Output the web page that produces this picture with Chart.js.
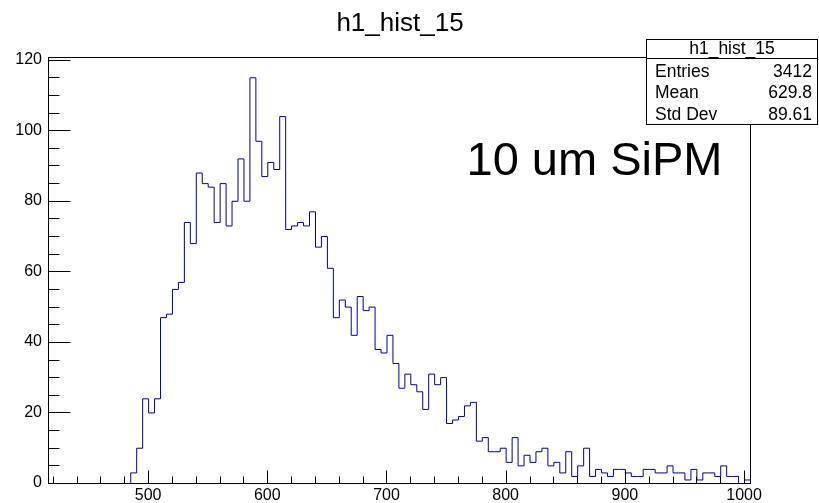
<!DOCTYPE html>
<html>
<head>
<meta charset="utf-8">
<script src="https://cdn.jsdelivr.net/npm/chart.js@4.4.0/dist/chart.umd.min.js"></script>
<style>
html, body { margin: 0; padding: 0; background: #fff; }
#c { display: block; }
</style>
</head>
<body>
<canvas id="c" width="819" height="503"></canvas>
<script>
var histTitle = 'h1_hist_15';
var sensorLabel = '10 um SiPM';

// bins of 5, lower edge of first bin at 415
var binLow = 415;
var binWidth = 5;
var counts = [
    0, 0, 0, 0, 0, 0, 0, 0, 0, 0, 0, 0, 0, 0,
    3, 10, 24, 20, 24, 47, 48, 55, 57, 74, 68,
    88, 85, 84, 74, 85, 73, 80, 92, 80,
    115, 97, 87, 91, 89, 104, 72, 73, 74, 73, 77,
    67, 70, 61, 47, 52, 50, 42, 53, 49, 50, 38,
    37, 42, 34, 27, 31, 28, 26, 21, 31, 28, 30,
    17, 18, 19, 22, 23, 12, 13, 9, 9, 10, 6,
    13, 5, 8, 6, 9, 10, 5, 6, 3, 9, 2,
    5, 10, 2, 4, 3, 2, 4, 4, 3, 2, 2,
    4, 4, 3, 3, 5, 3, 3, 1, 4, 1, 3,
    3, 2, 5, 2, 2, 0, 1
];

var xTicks = [500, 600, 700, 800, 900, 1000];
var yTicks = [0, 20, 40, 60, 80, 100, 120];
var statNames = ['Entries', 'Mean', 'Std Dev'];
var statValues = ['3412', '629.8', '89.61'];

var FONT = "'Liberation Sans', Arial, Helvetica, sans-serif";

var points = counts.map(function(c, i) {
    return { x: binLow + i * binWidth, y: c };
});
points.push({ x: binLow + counts.length * binWidth, y: counts[counts.length - 1] });

function px(v) { return Math.round(v) + 0.5; }

var rootStyle = {
    id: 'rootStyle',
    beforeDatasetsDraw: function(chart) {
        chart.ctx.save();
        chart.ctx.translate(0.5, 0.5);
    },
    afterDatasetsDraw: function(chart) {
        var ctx = chart.ctx;
        ctx.restore();
        var ca = chart.chartArea;
        var xs = chart.scales.x, ys = chart.scales.y;
        ctx.save();
        ctx.strokeStyle = '#000';
        ctx.lineWidth = 1;
        // frame
        ctx.strokeRect(px(ca.left), px(ca.top), Math.round(ca.right) - Math.round(ca.left), Math.round(ca.bottom) - Math.round(ca.top));
        // x ticks
        ctx.beginPath();
        for (var v = 420; v <= 1000; v += 20) {
            var x = px(xs.getPixelForValue(v));
            var len = (v % 100 === 0) ? 13 : 7;
            ctx.moveTo(x, px(ca.bottom));
            ctx.lineTo(x, px(ca.bottom) - len);
        }
        // y ticks
        for (var w = 0; w <= 120; w += 5) {
            var y = px(ys.getPixelForValue(w));
            var l = (w % 20 === 0) ? 22 : 11;
            ctx.moveTo(px(ca.left), y);
            ctx.lineTo(px(ca.left) + l, y);
        }
        ctx.stroke();

        // title
        ctx.fillStyle = '#000';
        ctx.font = '26px ' + FONT;
        ctx.textAlign = 'center';
        ctx.textBaseline = 'alphabetic';
        ctx.fillText(histTitle, 400, 31);

        // label
        ctx.font = '47px ' + FONT;
        ctx.textAlign = 'left';
        ctx.fillText(sensorLabel, 466.5, 175);

        // stats box
        var bx = 646, by = 39, bw = 172, bh = 85;
        ctx.fillStyle = '#fff';
        ctx.fillRect(bx, by, bw, bh);
        ctx.strokeRect(bx + 0.5, by + 0.5, bw - 1, bh);
        ctx.beginPath();
        ctx.moveTo(bx, 58.5);
        ctx.lineTo(bx + bw, 58.5);
        ctx.stroke();
        ctx.fillStyle = '#000';
        ctx.font = '17.5px ' + FONT;
        ctx.textAlign = 'center';
        ctx.fillText(histTitle, bx + bw / 2, 54);
        var rows = [77, 98, 119.5];
        for (var i = 0; i < statNames.length; i++) {
            ctx.textAlign = 'left';
            ctx.fillText(statNames[i], 655, rows[i]);
            ctx.textAlign = 'right';
            ctx.fillText(statValues[i], 812, rows[i]);
        }
        ctx.restore();
    }
};

new Chart(document.getElementById('c').getContext('2d'), {
    type: 'line',
    plugins: [rootStyle],
    data: {
        datasets: [{
            data: points,
            stepped: true,
            borderColor: '#000099',
            borderWidth: 1,
            pointRadius: 0,
            fill: false,
            tension: 0
        }]
    },
    options: {
        responsive: false,
        animation: false,
        devicePixelRatio: 1,
        layout: { padding: { left: 0, right: 69, top: 57, bottom: 0 } },
        plugins: {
            legend: { display: false },
            tooltip: { enabled: false },
            title: { display: false }
        },
        scales: {
            x: {
                type: 'linear',
                min: 416,
                max: 1005,
                grid: { display: false, drawTicks: false },
                border: { display: false },
                ticks: {
                    color: '#000', padding: 3, maxRotation: 0, font: { size: 16, family: FONT },
                    callback: function(v) { return String(v); }
                },
                afterBuildTicks: function(s) { s.ticks = xTicks.map(function(v) { return { value: v }; }); },
                afterFit: function(s) { s.height = 20; }
            },
            y: {
                type: 'linear',
                min: 0,
                max: 120.75,
                grid: { display: false, drawTicks: false },
                border: { display: false },
                ticks: {
                    color: '#000', padding: 6, font: { size: 16, family: FONT },
                    callback: function(v) { return String(v); }
                },
                afterBuildTicks: function(s) { s.ticks = yTicks.map(function(v) { return { value: v }; }); },
                afterFit: function(s) { s.width = 48; }
            }
        }
    }
});
</script>
</body>
</html>
